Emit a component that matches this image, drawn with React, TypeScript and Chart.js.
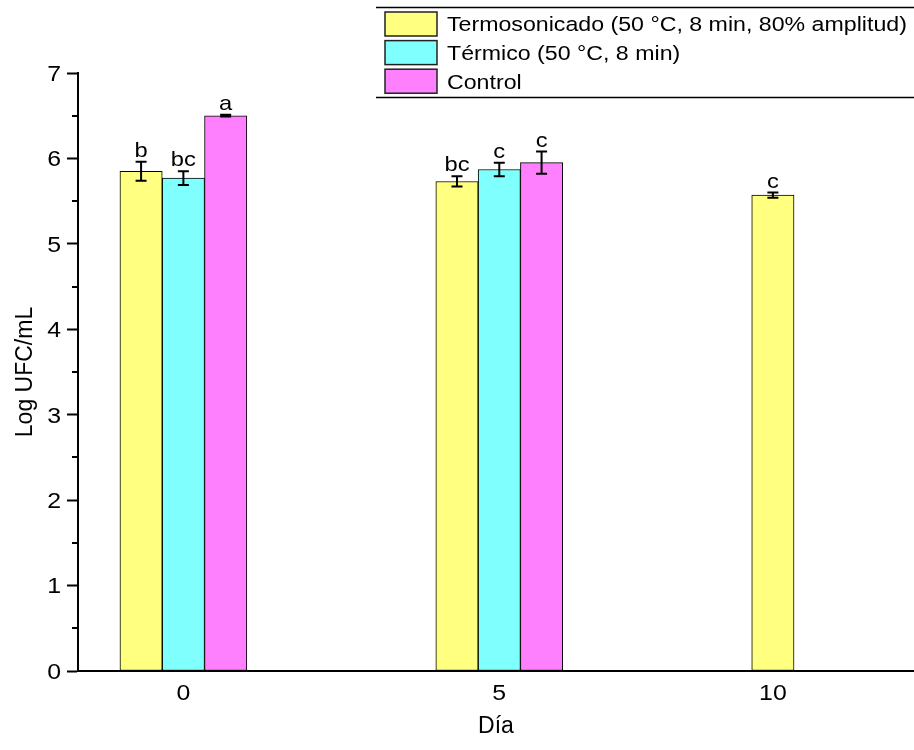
import React, { useEffect, useRef } from 'react';
import { Chart, registerables } from 'chart.js';

Chart.register(...registerables);

// ---- data ----
const days = [0, 5, 10];
const dayLabels = ['0', '5', '10'];
const seriesNames = ['Termosonicado (50 °C, 8 min, 80% amplitud)', 'Térmico (50 °C, 8 min)', 'Control'];
const termosonicado = [5.85, 5.73, 5.57];
const termosonicadoErr = [0.11, 0.06, 0.03];
const termosonicadoLetters = ['b', 'bc', 'c'];
const termico = [5.77, 5.87, null];
const termicoErr = [0.08, 0.08, null];
const termicoLetters = ['bc', 'c', null];
const control = [6.5, 5.95, null];
const controlErr = [0.01, 0.13, null];
const controlLetters = ['a', 'c', null];
const yMin = 0;
const yMax = 7;

const seriesValues: (number | null)[][] = [termosonicado, termico, control];
const seriesErrors: (number | null)[][] = [termosonicadoErr, termicoErr, controlErr];
const seriesLetters: (string | null)[][] = [termosonicadoLetters, termicoLetters, controlLetters];
const seriesColors = ['#FFFF80', '#80FFFF', '#FF80FF'];

// ---- styling ----
const FONT = '"Liberation Sans", Arial, Helvetica, sans-serif';
const LEG = 20.5;
const TICK = 22;
const LET = 21;
const SX = 1.13;

function drawStretched(ctx: CanvasRenderingContext2D, text: string, x: number, y: number, align: CanvasTextAlign) {
  ctx.save();
  ctx.translate(x, y);
  ctx.scale(SX, 1);
  ctx.textAlign = align;
  ctx.textBaseline = 'alphabetic';
  ctx.fillText(text, 0, 0);
  ctx.restore();
}

const customPlugin = {
  id: 'customDecor',
  afterDatasetsDraw(chart: any) {
    const ctx: CanvasRenderingContext2D = chart.ctx;
    const yScale = chart.scales.y;
    const xScale = chart.scales.x;
    ctx.save();
    ctx.strokeStyle = '#000';
    ctx.fillStyle = '#000';
    ctx.lineWidth = 2;
    // minor ticks on y
    for (let v = yMin + 0.5; v < yMax; v += 1) {
      const py = Math.round(yScale.getPixelForValue(v));
      ctx.beginPath();
      ctx.moveTo(xScale.left - 6, py);
      ctx.lineTo(xScale.left, py);
      ctx.stroke();
    }
    // y tick labels
    ctx.font = `${TICK}px ${FONT}`;
    yScale.ticks.forEach((t: any) => {
      const py = yScale.getPixelForValue(t.value);
      drawStretched(ctx, String(t.value), xScale.left - 17, py + 0.36 * TICK, 'right');
    });
    // error bars and letters
    ctx.font = `${LET}px ${FONT}`;
    seriesValues.forEach((vals, i) => {
      const meta = chart.getDatasetMeta(i);
      vals.forEach((v, j) => {
        if (v == null) return;
        const el = meta.data[j];
        if (!el) return;
        const e = seriesErrors[i][j] || 0;
        const x = el.x;
        const yTop = yScale.getPixelForValue(v + e);
        const yBot = yScale.getPixelForValue(v - e);
        ctx.lineWidth = 2;
        ctx.beginPath();
        ctx.moveTo(x, yBot);
        ctx.lineTo(x, yTop);
        ctx.moveTo(x - 5.5, yTop);
        ctx.lineTo(x + 5.5, yTop);
        ctx.moveTo(x - 5.5, yBot);
        ctx.lineTo(x + 5.5, yBot);
        ctx.stroke();
        const letter = seriesLetters[i][j];
        if (letter) drawStretched(ctx, letter, x, yTop - 5, 'center');
      });
    });
    // x category labels, centred under the drawn bars of each day
    ctx.font = `${TICK}px ${FONT}`;
    days.forEach((d, j) => {
      const xs: number[] = [];
      seriesValues.forEach((vals, i) => {
        const el = chart.getDatasetMeta(i).data[j];
        if (vals[j] != null && el) xs.push(el.x);
      });
      if (!xs.length) return;
      const cx = xs.reduce((a, b) => a + b, 0) / xs.length;
      drawStretched(ctx, dayLabels[j], cx, xScale.top + 29, 'center');
    });
    ctx.restore();
  },
  afterDraw(chart: any) {
    const ctx: CanvasRenderingContext2D = chart.ctx;
    ctx.save();
    const left = 376;
    const right = chart.width;
    ctx.strokeStyle = '#000';
    ctx.lineWidth = 1.5;
    ctx.beginPath();
    ctx.moveTo(left, 7.5);
    ctx.lineTo(right, 7.5);
    ctx.moveTo(left, 97.5);
    ctx.lineTo(right, 97.5);
    ctx.stroke();
    ctx.font = `${LEG}px ${FONT}`;
    chart.data.datasets.forEach((ds: any, i: number) => {
      const top = 12 + i * 28.6;
      ctx.fillStyle = ds.backgroundColor;
      ctx.fillRect(385, top, 52, 24);
      ctx.strokeStyle = '#222';
      ctx.lineWidth = 1.5;
      ctx.strokeRect(385, top, 52, 24);
      ctx.fillStyle = '#000';
      drawStretched(ctx, ds.label, 447, top + 12 + 7.4, 'left');
    });
    ctx.restore();
  },
};

export default function App() {
  const canvasRef = useRef<HTMLCanvasElement | null>(null);

  useEffect(() => {
    if (!canvasRef.current) return;
    const datasets = seriesValues.map((vals, i) => ({
      label: seriesNames[i],
      data: days.map((d, j) => ({ x: d, y: vals[j] })),
      backgroundColor: seriesColors[i],
      borderColor: '#000',
      borderWidth: 1,
      borderSkipped: false,
      barThickness: 42.3,
    }));
    const chart = new Chart(canvasRef.current, {
      type: 'bar',
      data: { datasets: datasets as any },
      plugins: [customPlugin as any],
      options: {
        animation: false,
        responsive: false,
        maintainAspectRatio: false,
        layout: { padding: { top: 73, left: 0, right: 0, bottom: 0 } },
        plugins: {
          legend: { display: false },
          tooltip: { enabled: false },
        },
        scales: {
          x: {
            type: 'linear',
            min: -1.668,
            max: 11.564,
            offset: false,
            grid: { display: false },
            border: { display: true, color: '#000', width: 2 },
            ticks: { display: false },
            title: {
              display: true,
              text: 'Día',
              color: '#000',
              font: { family: FONT, size: 23 },
              padding: { top: 0, bottom: 9.5 },
            },
            afterFit: (scale: any) => {
              scale.height = 79;
            },
          },
          y: {
            min: yMin,
            max: yMax,
            grid: {
              display: true,
              drawOnChartArea: false,
              drawTicks: true,
              tickLength: 11,
              tickWidth: 2,
              tickColor: '#000',
            },
            border: { display: true, color: '#000', width: 2 },
            ticks: {
              display: false,
              stepSize: 1,
            },
            title: {
              display: true,
              text: 'Log UFC/mL',
              color: '#000',
              font: { family: FONT, size: 23 },
              padding: { top: 11.5, bottom: 0 },
            },
            afterFit: (scale: any) => {
              scale.width = 78;
            },
          },
        },
      } as any,
    });
    return () => chart.destroy();
  }, []);

  return (
    <div style={{ position: 'fixed', left: 0, top: 0, width: 914, height: 750, background: '#fff' }}>
      <canvas ref={canvasRef} width={914} height={750} style={{ display: 'block', width: 914, height: 750 }} />
    </div>
  );
}
